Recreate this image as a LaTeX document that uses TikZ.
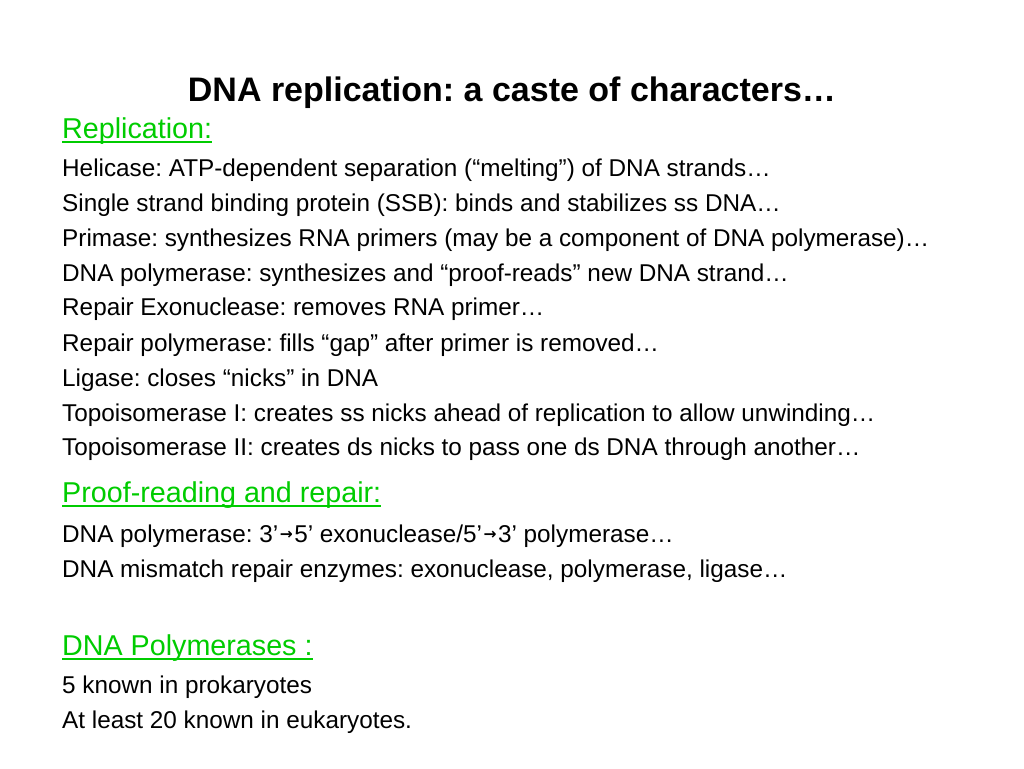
\documentclass[tikz,border=0pt]{standalone}
\usepackage{fontspec}
\usepackage{graphicx}
\setmainfont{Liberation Sans}
\newfontfamily\arrowfont{DejaVu Sans}
\newcommand{\myarr}{\kern1.5pt\raisebox{2.2pt}{\resizebox{13pt}{!}{\arrowfont\bfseries →}}\kern1.5pt}
\definecolor{headgreen}{RGB}{0,204,0}
\begin{document}
\frenchspacing
\begin{tikzpicture}[x=1pt,y=-1pt,
  body/.style={anchor=base west,inner sep=0pt,font=\fontsize{24.3}{28}\selectfont\frenchspacing},
  head/.style={anchor=base west,inner sep=0pt,text=headgreen,font=\fontsize{28.7}{32}\selectfont\frenchspacing},
  ttl/.style={anchor=base,inner sep=0pt,font=\fontsize{34}{38}\bfseries\selectfont\frenchspacing},
  uline/.style={headgreen,line width=1.8pt}]
\useasboundingbox[fill=white] (0,0) rectangle (1024,768);
\node[ttl] (title) at (512,101.5) {DNA replication: a caste of characters…};
\node[head] (h1) at (62,138) {Replication:};
\node[body] (l1) at (62,176) {Helicase: ATP-dependent separation (“melting”) of DNA strands…};
\node[body] (l2) at (62,211) {Single strand binding protein (SSB): binds and stabilizes ss DNA…};
\node[body] (l3) at (62,246) {Primase: synthesizes RNA primers (may be a component of DNA polymerase)…};
\node[body] (l4) at (62,281) {DNA polymerase: synthesizes and “proof-reads” new DNA strand…};
\node[body] (l5) at (62,315) {Repair Exonuclease: removes RNA primer…};
\node[body] (l6) at (62,351) {Repair polymerase: fills “gap” after primer is removed…};
\node[body] (l7) at (62,386) {Ligase: closes “nicks” in DNA};
\node[body] (l8) at (62,421) {Topoisomerase I: creates ss nicks ahead of replication to allow unwinding…};
\node[body] (l9) at (62,455) {Topoisomerase II: creates ds nicks to pass one ds DNA through another…};
\node[head] (h2) at (62,502) {Proof-reading and repair:};
\node[body] (m1) at (62,542) {DNA polymerase: 3’\myarr5’ exonuclease/5’\myarr3’ polymerase…};
\node[body] (m2) at (62,577) {DNA mismatch repair enzymes: exonuclease, polymerase, ligase…};
\node[head] (h3) at (62,655) {DNA Polymerases :};
\node[body] (p1) at (62,693) {5 known in prokaryotes};
\node[body] (p2) at (62,728) {At least 20 known in eukaryotes.};
\foreach \h in {h1,h2,h3}
  \draw[uline] ([yshift=-4pt]\h.base west) -- ([yshift=-4pt]\h.base east);
\end{tikzpicture}
\end{document}
